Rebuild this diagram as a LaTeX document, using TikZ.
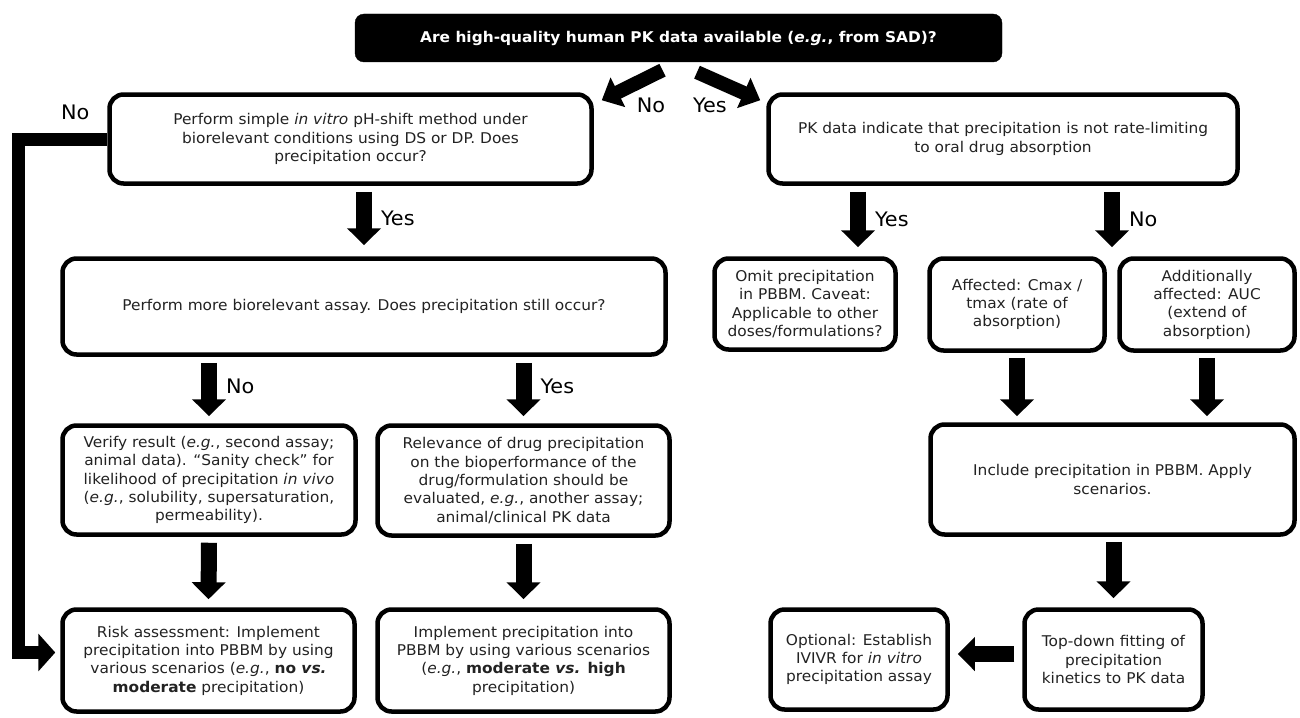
\documentclass[tikz,border=0pt]{standalone}
\usepackage{fontspec}
\setmainfont{DejaVu Sans}[FakeStretch=1.04]
\usetikzlibrary{arrows.meta,calc}
\definecolor{ink}{HTML}{222222}
\tikzset{
  box/.style={draw=black, line width=4.5pt, rounded corners=14pt, align=center,
    text=ink, inner sep=0pt, font=\fontsize{14.8}{18.3}\selectfont},
  topbox/.style={fill=black, draw=black, rounded corners=9pt, align=center,
    text=white, inner sep=0pt, font=\bfseries\fontsize{14.8}{18}\selectfont},
  bigarrow/.style={draw=black, line width=16pt, -{Triangle[width=33pt,length=17pt]}},
  diagarrow/.style={draw=black, line width=14pt, -{Triangle[width=32pt,length=18pt]}},
  elbowarrow/.style={draw=black, line width=13pt, line join=miter,
    -{Triangle[width=37pt,length=17pt]}},
  lbl/.style={text=black, inner sep=1pt, font=\fontsize{20}{22}\selectfont},
}
\begin{document}
\begin{tikzpicture}[x=1pt, y=-1pt]
\useasboundingbox (0,0) rectangle (1300,717);

% question at the top
\node[topbox, minimum width=647pt, minimum height=48pt] (T) at (678.5,38)
  {Are high-quality human PK data available (\textit{e.g.}, from SAD)?};

% left branch: no human data
\node[box, minimum width=482pt, minimum height=89pt] (A) at (350.5,139)
  {Perform simple \textit{in vitro} pH-shift method under\\
   biorelevant conditions using DS or DP. Does\\
   precipitation occur?};
\node[box, minimum width=603pt, minimum height=96pt] (B) at (364,306.5)
  {Perform more biorelevant assay. Does precipitation still occur?};
\node[box, minimum width=293pt, minimum height=109pt] (C) at (209,480)
  {Verify result (\textit{e.g.}, second assay;\\
   animal data). “Sanity check” for\\
   likelihood of precipitation \textit{in vivo}\\
   (\textit{e.g.}, solubility, supersaturation,\\
   permeability).};
\node[box, minimum width=292pt, minimum height=110pt] (D) at (523.5,480.5)
  {Relevance of drug precipitation\\
   on the bioperformance of the\\
   drug/formulation should be\\
   evaluated, \textit{e.g.}, another assay;\\
   animal/clinical PK data};
\node[box, minimum width=292pt, minimum height=102pt] (E) at (208.5,660.5)
  {Risk assessment: Implement\\
   precipitation into PBBM by using\\
   various scenarios (\textit{e.g.}, \textbf{no \textit{vs.}}\\
   \textbf{moderate} precipitation)};
\node[box, minimum width=292pt, minimum height=102pt] (F) at (523.5,660.5)
  {Implement precipitation into\\
   PBBM by using various scenarios\\
   (\textit{e.g.}, \textbf{moderate \textit{vs.} high}\\
   precipitation)};

% right branch: human PK data available
\node[box, minimum width=469pt, minimum height=89pt] (G) at (1003,139)
  {PK data indicate that precipitation is not rate-limiting\\
   to oral drug absorption};
\node[box, minimum width=181pt, minimum height=91pt] (H) at (805,304)
  {Omit precipitation\\ in PBBM. Caveat:\\ Applicable to other\\ doses/formulations?};
\node[box, minimum width=175pt, minimum height=92pt] (I) at (1017,304.5)
  {Affected: Cmax /\\ tmax (rate of\\ absorption)};
\node[box, minimum width=175pt, minimum height=92pt] (J) at (1207,304.5)
  {Additionally\\ affected: AUC\\ (extend of\\ absorption)};
\node[box, minimum width=364pt, minimum height=110pt] (K) at (1112.5,479.5)
  {Include precipitation in PBBM. Apply\\ scenarios.};
\node[box, minimum width=178pt, minimum height=100pt] (L) at (1113.5,659.5)
  {Top-down fitting of\\ precipitation\\ kinetics to PK data};
\node[box, minimum width=177pt, minimum height=100pt] (M) at (859,659.5)
  {Optional: Establish\\ IVIVR for \textit{in vitro}\\ precipitation assay};

% connectors from the top question
\draw[diagarrow] ($(T.south)+(-16,8)$) -- ($(A.north east)+(8,8)$);
\draw[diagarrow] ($(T.south)+(18.5,10)$) -- ($(G.north west)+(-6,8)$);
\node[lbl] (noT) at ($(T.south)+(-27.5,43)$) {No};
\node[lbl] (yesT) at ($(T.south)+(31.5,43)$) {Yes};

% left branch connectors
\draw[elbowarrow] (A.west) -- ++(-89,0) |- ($(E.west)+(-5,-8)$);
\node[lbl] (noA) at ($(A.west)+(-32,-27)$) {No};
\draw[bigarrow] ($(A.south -| B.north)+(0,6)$) --
  node[lbl, right=8pt, pos=0.5] {Yes} ($(B.north)+(0,-11)$);
\draw[bigarrow] ($(B.south -| C.north)+(0,6)$) --
  node[lbl, right=8pt, pos=0.45] {No} ($(C.north)+(0,-7)$);
\draw[bigarrow] ($(B.south -| D.north)+(0,6)$) --
  node[lbl, right=8pt, pos=0.45] {Yes} ($(D.north)+(0,-7)$);
\draw[bigarrow] ($(C.south)+(0,6)$) -- ($(E.north)+(0,-8)$);
\draw[bigarrow] ($(D.south)+(0,6)$) -- ($(F.north)+(0,-8)$);

% right branch connectors
\draw[bigarrow] ($(G.south)+(-145,6)$) --
  node[lbl, right=8pt, pos=0.5] {Yes} ($(H.north)+(53,-9)$);
\coordinate (IJ) at ($(I.north east)!0.5!(J.north west)$);
\draw[bigarrow] ($(G.south -| IJ)+(0,6)$) --
  node[lbl, right=8pt, pos=0.5] {No} ($(IJ)+(0,-9)$);
\draw[bigarrow] ($(I.south)+(0,5)$) -- ($(K.north -| I.south)+(0,-6)$);
\draw[bigarrow] ($(J.south)+(0,5)$) -- ($(K.north -| J.south)+(0,-6)$);
\draw[bigarrow] ($(K.south -| L.north)+(0,5)$) -- ($(L.north)+(0,-9)$);
\draw[bigarrow] ($(L.west)+(-8,-5.5)$) -- ($(M.east)+(8,-5.5)$);
\end{tikzpicture}
\end{document}
